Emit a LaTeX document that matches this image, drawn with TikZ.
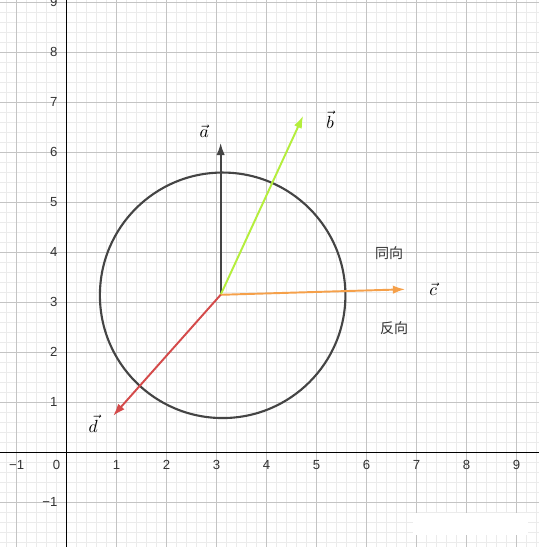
\documentclass[tikz,border=0pt]{standalone}
\usepackage{fontspec}
\setsansfont{Liberation Sans}
\newfontfamily\cjk{Noto Sans CJK SC}
\usetikzlibrary{arrows.meta}
\definecolor{minorgrid}{HTML}{EBEBEB}
\definecolor{majorgrid}{HTML}{C4C4C4}
\definecolor{veca}{HTML}{444444}
\definecolor{vecb}{HTML}{B4EE3C}
\definecolor{vecc}{HTML}{F5A04A}
\definecolor{vecd}{HTML}{D44A4A}
\tikzset{
  vecarrow/.style={line width=1.1pt,-{Latex[length=7pt,width=4.8pt]}},
  tick/.style={font=\sffamily\fontsize{7.5}{8}\selectfont,text=black!80},
  veclabel/.style={font=\fontsize{10}{12}\selectfont},
  cjklabel/.style={font=\cjk\fontsize{8}{10}\selectfont,text=black!80}
}
\begin{document}
\begin{tikzpicture}
\useasboundingbox[fill=white] (-1.333,-1.894) rectangle (9.447,9.046);
\begin{scope}
\clip (-1.333,-1.894) rectangle (9.447,9.046);
\draw[minorgrid,line width=0.4pt,step=0.2] (-2,-2) grid (10,10);
\draw[majorgrid,line width=0.5pt,step=1] (-2,-2) grid (10,10);
\draw[black,line width=0.8pt] (-2,0) -- (10,0);
\draw[black,line width=0.8pt] (0,-2) -- (0,10);
\end{scope}
% tick labels
\foreach \x in {1,2,3,4,5,6,7,8,9}
  \node[tick] (tx\x) at (\x,-0.25) {\x};
\node[tick] (txm1) at (-1,-0.25) {−1};
\node[tick] (t0) at (-0.2,-0.25) {0};
\foreach \y in {1,2,3,4,5,6,7,8,9}
  \node[tick,anchor=east] (ty\y) at (-0.06,\y) {\y};
\node[tick,anchor=east] (tym1) at (-0.06,-1) {−1};
% watermark patch
\fill[white] (6.93,-1.22) rectangle (9.22,-1.66);
% circle
\coordinate (C) at (3.12,3.14);
\draw[veca,line width=1.2pt] (C) circle (2.455);
% vectors
\coordinate (O) at (3.08,3.15);
\coordinate (A) at (3.08,6.19);
\coordinate (B) at (4.73,6.73);
\coordinate (Cc) at (6.77,3.26);
\coordinate (D) at (0.93,0.73);
\draw[vecarrow,veca] (O) -- (A);
\draw[vecarrow,vecb] (O) -- (B);
\draw[vecarrow,vecc] (O) -- (Cc);
\draw[vecarrow,vecd] (O) -- (D);
% labels
\node[veclabel] (la) at (2.75,6.43) {$\vec{a}$};
\node[veclabel] (lb) at (5.27,6.65) {$\vec{b}$};
\node[veclabel] (lc) at (7.33,3.27) {$\vec{c}$};
\node[veclabel] (ld) at (0.53,0.57) {$\vec{d}$};
\node[cjklabel] (same) at (6.45,3.99) {同向};
\node[cjklabel] (opp) at (6.55,2.49) {反向};
\end{tikzpicture}
\end{document}
